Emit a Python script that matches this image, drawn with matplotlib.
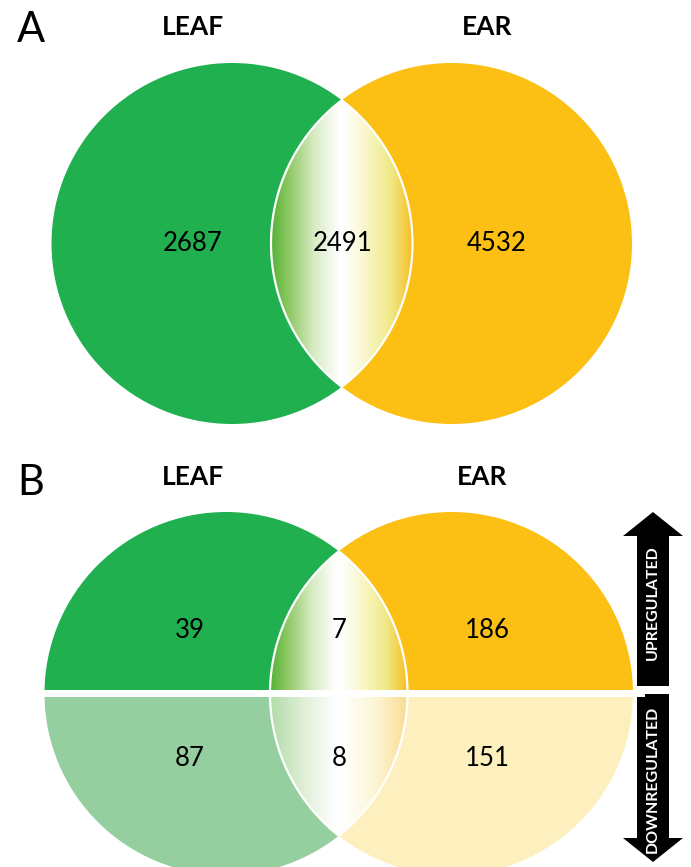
import numpy as np
import matplotlib
matplotlib.use('Agg')
import matplotlib.pyplot as plt
import matplotlib.patches as mpatches
from matplotlib.path import Path

plt.rcParams['font.family'] = ['Lato', 'DejaVu Sans']

# --- data ---
set_names = ['LEAF', 'EAR']
counts_all = [2687, 2491, 4532]          # leaf only, shared, ear only
counts_up = [39, 7, 186]
counts_down = [87, 8, 151]
direction_labels = ['UPREGULATED', 'DOWNREGULATED']

# colours
green = '#21b04f'
yellow = '#fcc014'
green_lt = '#95cf9f'
yellow_lt = '#fdf0be'

W, H = 691, 867
fig = plt.figure(figsize=(W / 100, H / 100), dpi=100)
ax = fig.add_axes([0, 0, 1, 1])
ax.set_xlim(0, W)
ax.set_ylim(H, 0)
ax.set_aspect('equal')
ax.axis('off')

r = 180.5


def lens_path(x1, x2, cy, r):
    d = (x2 - x1) / 2
    a = np.arccos(d / r)
    t1 = np.linspace(-a, a, 120)
    t2 = np.linspace(np.pi - a, np.pi + a, 120)
    xs = np.concatenate((x1 + r * np.cos(t1), x2 + r * np.cos(t2)))
    ys = np.concatenate((cy + r * np.sin(t1), cy + r * np.sin(t2)))
    verts = np.column_stack((xs, ys))
    return Path(np.vstack((verts, verts[:1])), closed=True), x2 - r, x1 + r, cy - r * np.sin(a), cy + r * np.sin(a)


def gradient(stops, n=256):
    pos = [s[0] for s in stops]
    img = np.zeros((1, n, 3))
    xx = np.linspace(0, 1, n)
    for k in range(3):
        img[0, :, k] = np.interp(xx, pos, [s[1][k] for s in stops])
    return img


grad_dark = gradient([(0.0, (0.33, 0.70, 0.22)), (0.12, (0.55, 0.78, 0.38)),
                      (0.3, (0.84, 0.92, 0.76)), (0.48, (1, 1, 1)), (0.52, (1, 1, 1)),
                      (0.7, (0.97, 0.96, 0.74)), (0.85, (0.94, 0.91, 0.52)),
                      (1.0, (0.97, 0.74, 0.13))])
grad_light = gradient([(0.0, (0.70, 0.86, 0.66)), (0.25, (0.88, 0.94, 0.85)),
                       (0.48, (1, 1, 1)), (0.52, (1, 1, 1)), (0.75, (0.99, 0.97, 0.85)),
                       (1.0, (0.98, 0.86, 0.58))])

# ---------------- panel A ----------------
cyA = 243.5
xL, xR = 232, 451.5
ax.add_patch(mpatches.Circle((xL, cyA), r, color=green, lw=0))
ax.add_patch(mpatches.Circle((xR, cyA), r, color=yellow, lw=0))
path, lx0, lx1, ly0, ly1 = lens_path(xL, xR, cyA, r)
lens = mpatches.PathPatch(path, facecolor='none', edgecolor='white', lw=1.6, zorder=3)
ax.add_patch(lens)
im = ax.imshow(grad_dark, extent=[lx0, lx1, ly1, ly0], aspect='auto', zorder=2)
im.set_clip_path(lens)

for x, v in zip([193, 343, 497], counts_all):
    ax.text(x, cyA, str(v), ha='center', va='center', fontsize=18.5, zorder=4)

ax.text(17, 30, 'A', fontsize=30, ha='left', va='center')
ax.text(193, 27, set_names[0], fontsize=19, weight='bold', ha='center', va='center')
ax.text(487, 27, set_names[1], fontsize=19, weight='bold', ha='center', va='center')

# ---------------- panel B ----------------
cyB = 693.5
xL2, xR2 = 226, 451.5
rB = 181.5
ax.add_patch(mpatches.Wedge((xL2, cyB), rB, 180, 360, color=green, lw=0))
ax.add_patch(mpatches.Wedge((xR2, cyB), rB, 180, 360, color=yellow, lw=0))
ax.add_patch(mpatches.Wedge((xL2, cyB), rB, 0, 180, color=green_lt, lw=0))
ax.add_patch(mpatches.Wedge((xR2, cyB), rB, 0, 180, color=yellow_lt, lw=0))
path2, lx0, lx1, ly0, ly1 = lens_path(xL2, xR2, cyB, rB)
lens2 = mpatches.PathPatch(path2, facecolor='none', edgecolor='white', lw=1.6, zorder=3)
ax.add_patch(lens2)
im_up = ax.imshow(grad_dark, extent=[lx0, lx1, cyB, ly0], aspect='auto', zorder=2)
im_up.set_clip_path(lens2)
im_dn = ax.imshow(grad_light, extent=[lx0, lx1, ly1, cyB], aspect='auto', zorder=2)
im_dn.set_clip_path(lens2)
ax.add_patch(mpatches.Rectangle((30, cyB - 3.5), 615, 7, color='white', lw=0, zorder=3.5))
ax.set_xlim(0, W)
ax.set_ylim(H, 0)

for x, v in zip([190, 339, 487], counts_up):
    ax.text(x, 630, str(v), ha='center', va='center', fontsize=18.5, zorder=4)
for x, v in zip([190, 339, 487], counts_down):
    ax.text(x, 758, str(v), ha='center', va='center', fontsize=18.5, zorder=4)

ax.text(17, 483, 'B', fontsize=30, ha='left', va='center')
ax.text(193, 477, set_names[0], fontsize=19, weight='bold', ha='center', va='center')
ax.text(482, 477, set_names[1], fontsize=19, weight='bold', ha='center', va='center')

# direction arrows
ax.add_patch(mpatches.FancyArrow(653, 686, 0, -174, width=32, head_width=60,
                                 head_length=24, length_includes_head=True,
                                 color='black', lw=0))
ax.add_patch(mpatches.FancyArrow(653, 694, 0, 168, width=32, head_width=60,
                                 head_length=24, length_includes_head=True,
                                 color='black', lw=0))
ax.text(653, 603, direction_labels[0], rotation=90, color='white', weight='bold',
        fontsize=11.5, ha='center', va='center', zorder=5)
ax.text(653, 779, direction_labels[1], rotation=90, color='white', weight='bold',
        fontsize=11.5, ha='center', va='center', zorder=5)

fig.savefig('out.png', dpi=100)
